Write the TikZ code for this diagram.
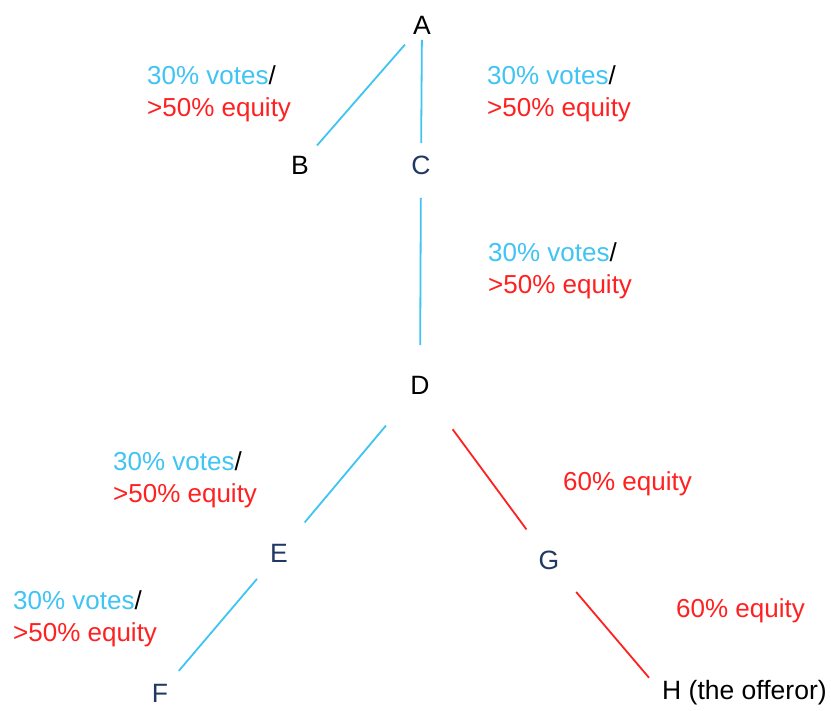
\documentclass[tikz,border=0pt]{standalone}
\usepackage{fontspec}
\setmainfont{Liberation Sans}
\definecolor{vblue}{RGB}{64,196,244}
\definecolor{ered}{RGB}{255,32,32}
\definecolor{navy}{RGB}{31,56,100}
\begin{document}
\begin{tikzpicture}[x=1pt,y=-1pt,
  lbl/.style={inner sep=0pt,font=\fontsize{26.5}{30}\selectfont},
  note/.style={inner sep=0pt,anchor=west,align=left,font=\fontsize{26}{32}\selectfont},
  bl/.style={draw=vblue,line width=1.8pt},
  rl/.style={draw=ered,line width=1.8pt}]
\fill[white] (0,0) rectangle (831,711);
\useasboundingbox (0,0) rectangle (831,711);
\node[lbl] (A) at (422,25) {A};
\node[lbl] (B) at (300,165) {B};
\node[lbl,text=navy] (C) at (421,165) {C};
\node[lbl] (D) at (420,385) {D};
\node[lbl,text=navy] (E) at (279,553) {E};
\node[lbl,text=navy] (F) at (160,693) {F};
\node[lbl,text=navy] (G) at (549,560) {G};
\node[lbl,anchor=west] (H) at (662,693) {H (the offeror)};
\draw[bl,shorten <=26pt,shorten >=26pt] (A.center) -- (B.center);
\draw[bl,shorten <=15pt,shorten >=22pt] (A.center) -- (C.center);
\draw[bl,shorten <=33pt,shorten >=40pt] (C.center) -- (D.center);
\draw[bl,shorten <=53pt,shorten >=40pt] (D.center) -- (E.center);
\draw[rl,shorten <=55pt,shorten >=38pt] (D.center) -- (G.center);
\draw[bl,shorten <=34pt,shorten >=29pt] (E.center) -- (F.center);
\draw[rl,shorten <=42pt,shorten >=20pt] (G.center) -- (H.west);
\node[note] (n1) at (147,94) {\textcolor{vblue}{30\% votes}/\\\textcolor{ered}{>50\% equity}};
\node[note] (n2) at (487,94) {\textcolor{vblue}{30\% votes}/\\\textcolor{ered}{>50\% equity}};
\node[note] (n3) at (488,271) {\textcolor{vblue}{30\% votes}/\\\textcolor{ered}{>50\% equity}};
\node[note] (n4) at (113,480) {\textcolor{vblue}{30\% votes}/\\\textcolor{ered}{>50\% equity}};
\node[note,text=ered] (n5) at (563,484) {60\% equity};
\node[note] (n6) at (13,619) {\textcolor{vblue}{30\% votes}/\\\textcolor{ered}{>50\% equity}};
\node[note,text=ered] (n7) at (676,611) {60\% equity};
\end{tikzpicture}
\end{document}
